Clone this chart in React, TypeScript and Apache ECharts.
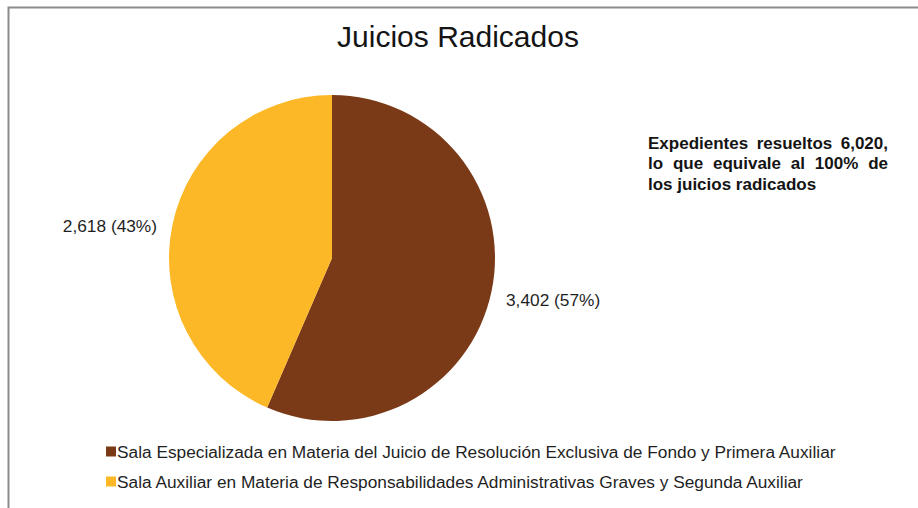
import React, { useEffect, useRef } from "react";
import * as echarts from "echarts";

const categories = [
  "Sala Especializada en Materia del Juicio de Resolución Exclusiva de Fondo y Primera Auxiliar",
  "Sala Auxiliar en Materia de Responsabilidades Administrativas Graves y Segunda Auxiliar",
];
const values = [3402, 2618];
const colors = ["#7B3A17", "#FDB827"];
const titleText = "Juicios Radicados";
const noteLines = [
  "Expedientes resueltos 6,020,",
  "lo que equivale al 100% de",
  "los juicios radicados",
];

const FONT = '"Liberation Sans", Arial, sans-serif';

function measure(text: string, font: string): number {
  const c = document.createElement("canvas").getContext("2d");
  if (!c) return text.length * 8;
  c.font = font;
  return c.measureText(text).width;
}

export default function App() {
  const ref = useRef<HTMLDivElement>(null);
  useEffect(() => {
    if (!ref.current) return;
    const chart = echarts.init(ref.current, null, { renderer: "svg" });
    const total = values.reduce((a, b) => a + b, 0);

    // annotation, justified lines
    const noteFont = `bold 17px ${FONT}`;
    const noteLeft = 648;
    const noteRight = 888;
    const noteTop = 143;
    const noteLH = 20.5;
    const noteEls: any[] = [];
    noteLines.forEach((line, li) => {
      const y = noteTop + li * noteLH;
      if (li === noteLines.length - 1) {
        noteEls.push({
          type: "text",
          x: noteLeft,
          y,
          style: { text: line, font: noteFont, fill: "#141414", textAlign: "left", textVerticalAlign: "middle" },
        });
        return;
      }
      const words = line.split(" ");
      const widths = words.map((w) => measure(w, noteFont));
      const sum = widths.reduce((a, b) => a + b, 0);
      const gap = (noteRight - noteLeft - sum) / (words.length - 1);
      let x = noteLeft;
      words.forEach((w, wi) => {
        noteEls.push({
          type: "text",
          x,
          y,
          style: { text: w, font: noteFont, fill: "#141414", textAlign: "left", textVerticalAlign: "middle" },
        });
        x += widths[wi] + gap;
      });
    });

    const labelPos = [
      { x: 506, y: 300, align: "left" },
      { x: 157, y: 226, align: "right" },
    ];

    chart.setOption({
      animation: false,
      backgroundColor: "#ffffff",
      title: {
        text: titleText,
        left: 458,
        top: 36,
        textAlign: "center",
        textVerticalAlign: "middle",
        padding: 0,
        textStyle: { fontFamily: FONT, fontSize: 30, fontWeight: "normal", color: "#141414" },
      },
      legend: {
        orient: "vertical",
        left: 101,
        top: 438,
        itemWidth: 10,
        itemHeight: 10,
        itemGap: 13,
        icon: "rect",
        data: categories,
        textStyle: { fontFamily: FONT, fontSize: 17.3, color: "#1f1f1f", padding: [0, 0, 0, -4] },
        selectedMode: false,
      },
      graphic: [
        {
          type: "rect",
          shape: { x: 8.5, y: 7.5, width: 1000, height: 600 },
          style: { fill: "none", stroke: "#8c8c8c", lineWidth: 2 },
          silent: true,
        },
        ...noteEls,
      ],
      series: [
        {
          type: "pie",
          center: [332, 258],
          radius: 163,
          startAngle: 90,
          clockwise: true,
          data: categories.map((name, i) => ({ name, value: values[i], itemStyle: { color: colors[i] } })),
          label: {
            show: true,
            position: "outside",
            fontFamily: FONT,
            fontSize: 17.3,
            color: "#1f1f1f",
            formatter: (p: any) =>
              `${p.value.toLocaleString("en-US")} (${Math.round((p.value / total) * 100)}%)`,
          },
          labelLine: { show: false },
          labelLayout: (params: any) => {
            const pos = labelPos[params.dataIndex];
            return { x: pos.x, y: pos.y, align: pos.align, verticalAlign: "middle" };
          },
          emphasis: { disabled: true },
        },
      ],
    });
    return () => chart.dispose();
  }, []);
  return (
    <div
      ref={ref}
      style={{ position: "fixed", left: 0, top: 0, width: 918, height: 508 }}
    />
  );
}
